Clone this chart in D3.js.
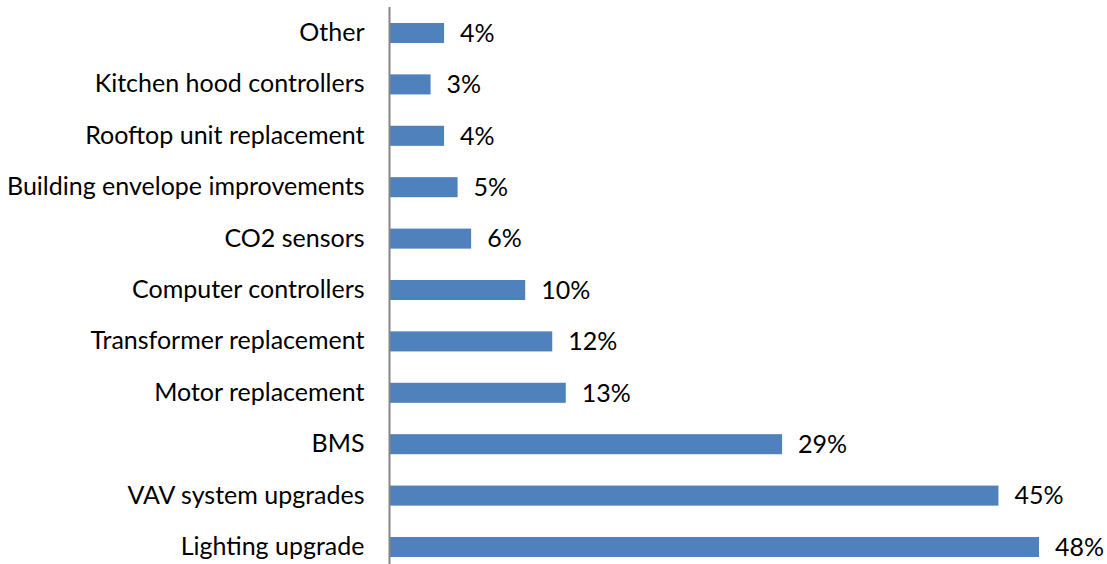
<!DOCTYPE html>
<html>
<head>
<meta charset="utf-8">
<script src="https://cdn.jsdelivr.net/npm/d3@7"></script>
<style>
  html, body { margin: 0; padding: 0; background: #fff; }
  svg text { font-family: Lato, "Open Sans", sans-serif; fill: #000; }
</style>
</head>
<body>
<svg id="chart" width="1107" height="564"></svg>
<script>
// Measures, listed top to bottom as shown
const categories = [
  "Other",
  "Kitchen hood controllers",
  "Rooftop unit replacement",
  "Building envelope improvements",
  "CO2 sensors",
  "Computer controllers",
  "Transformer replacement",
  "Motor replacement",
  "BMS",
  "VAV system upgrades",
  "Lighting upgrade"
];
const shares = [4, 3, 4, 5, 6, 10, 12, 13, 29, 45, 48];

const svg = d3.select("#chart");
const x0 = 390;
const fontSize = 25;

const x = d3.scaleLinear().domain([0, 48]).range([x0, 1039]);
const y = d3.scaleBand().domain(categories).range([7.3, 572.7]).paddingInner(0.61).paddingOuter(0.305);

const rows = categories.map((c, i) => ({ c, v: shares[i] }));

svg.selectAll("rect.bar").data(rows).join("rect")
  .attr("class", "bar")
  .attr("x", x(0))
  .attr("y", d => y(d.c))
  .attr("width", d => x(d.v) - x(0))
  .attr("height", y.bandwidth())
  .attr("fill", "#4f81bd");

// category axis
const axis = d3.axisLeft(y).tickSize(0).tickPadding(25);
const g = svg.append("g").attr("transform", `translate(${x0 - 0.5},0)`).call(axis);
g.select(".domain").attr("stroke", "#868686").attr("stroke-width", 2).attr("d", "M0,7V564");
g.selectAll("text").style("font-size", fontSize + "px").style("font-family", "Lato, sans-serif").attr("fill", "#000");

// value labels
svg.selectAll("text.val").data(rows).join("text")
  .attr("class", "val")
  .attr("x", d => x(d.v) + 16)
  .attr("y", d => y(d.c) + y.bandwidth() / 2)
  .attr("dy", "0.35em")
  .style("font-size", fontSize + "px")
  .text(d => d.v + "%");
</script>
</body>
</html>
